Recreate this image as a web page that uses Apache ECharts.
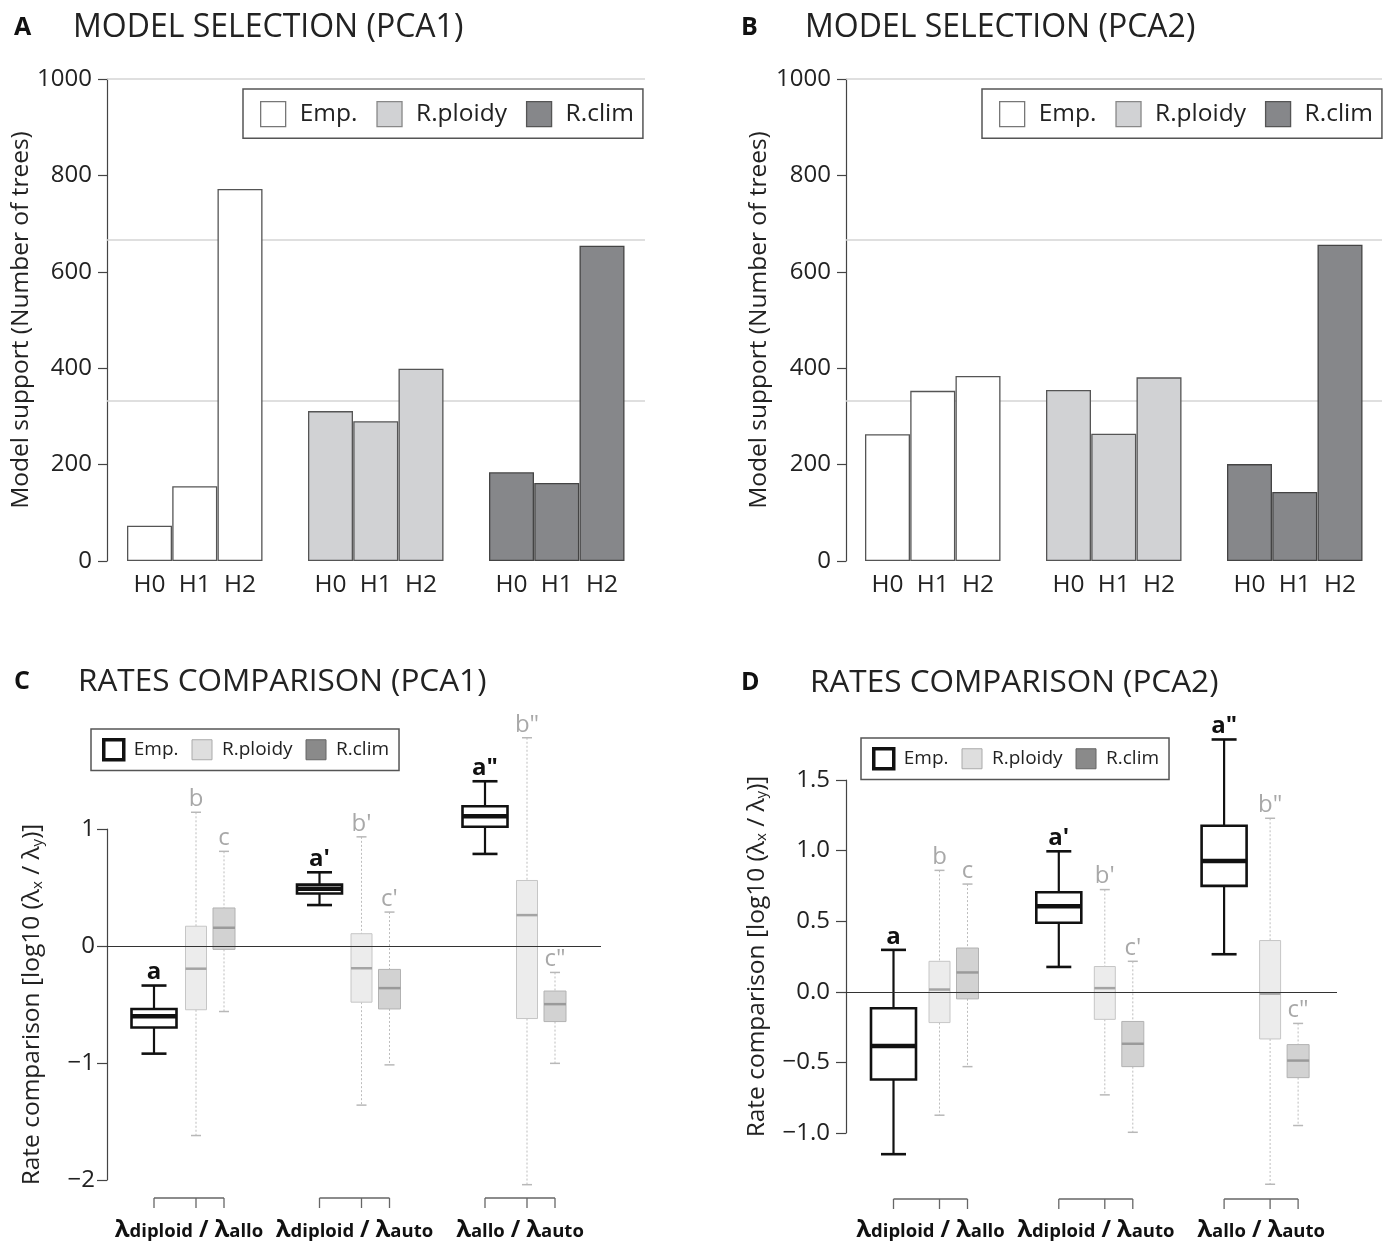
<!DOCTYPE html>
<html><head><meta charset="utf-8">
<script src="https://cdn.jsdelivr.net/npm/echarts@6/dist/echarts.min.js"></script>
<style>html,body{margin:0;padding:0;background:#fff}#c{width:1390px;height:1243px}</style>
</head><body><div id="c"></div>
<script>
// ---------------- data ----------------
const hypotheses = ['H0', 'H1', 'H2'];
const seriesNames = ['Emp.', 'R.ploidy', 'R.clim'];
// Panel A (PCA1) model support, number of trees
const pca1Emp = [73, 155, 772];
const pca1Ploidy = [311, 290, 399];
const pca1Clim = [184, 162, 654];
// Panel B (PCA2)
const pca2Emp = [263, 353, 384];
const pca2Ploidy = [355, 264, 381];
const pca2Clim = [201, 143, 656];
const supportThresholds = [1000 / 3, 2000 / 3, 1000];

// Rate comparisons: [low whisker, Q1, median, Q3, high whisker]
const ratioPairs = [['diploid', 'allo'], ['diploid', 'auto'], ['allo', 'auto']];
const pca1BoxEmp = [[-0.92, -0.697, -0.60, -0.538, -0.338], [0.35, 0.449, 0.49, 0.525, 0.63], [0.787, 1.019, 1.108, 1.194, 1.408]];
const pca1BoxPloidy = [[-1.62, -0.545, -0.194, 0.169, 1.143], [-1.36, -0.48, -0.19, 0.105, 0.933], [-2.04, -0.62, 0.264, 0.56, 1.78]];
const pca1BoxClim = [[-0.56, -0.029, 0.156, 0.325, 0.809], [-1.016, -0.538, -0.36, -0.20, 0.29], [-1.003, -0.646, -0.497, -0.385, -0.226]];
const pca2BoxEmp = [[-1.15, -0.621, -0.384, -0.116, 0.297], [0.176, 0.489, 0.605, 0.705, 0.995], [0.266, 0.75, 0.926, 1.176, 1.787]];
const pca2BoxPloidy = [[-0.874, -0.218, 0.016, 0.216, 0.86], [-0.73, -0.195, 0.026, 0.179, 0.724], [-1.363, -0.334, -0.013, 0.363, 1.229]];
const pca2BoxClim = [[-0.53, -0.05, 0.137, 0.31, 0.763], [-0.995, -0.53, -0.368, -0.21, 0.216], [-0.947, -0.608, -0.487, -0.374, -0.224]];
const sigEmp = ['a', "a'", 'a"'];
const sigPloidy = ['b', "b'", 'b"'];
const sigClim = ['c', "c'", 'c"'];

// ---------------- layout / styles ----------------
const FONT = '"Open Sans", "Noto Sans", sans-serif';
const TXT = '#222';
const AX = '#444';

const barStyles = [
  { color: '#ffffff', borderColor: '#555', borderWidth: 1.3 },
  { color: '#d1d2d4', borderColor: '#555', borderWidth: 1.3 },
  { color: '#86878a', borderColor: '#444', borderWidth: 1.3 }
];

const boxStyles = [
  { boxW: 45, capW: 25, fill: '#ffffff', stroke: '#111', boxLW: 2.6, med: '#111', medLW: 4.5,
    whisk: '#111', whiskLW: 2.2, dash: null, cap: '#111', capLW: 2.6, sigColor: '#111', sigWeight: 'bold' },
  { boxW: 21, capW: 10, fill: '#ececec', stroke: '#c6c6c6', boxLW: 1, med: '#a4a4a4', medLW: 2.5,
    whisk: '#bdbdbd', whiskLW: 1, dash: [2, 2], cap: '#b8b8b8', capLW: 1.5, sigColor: '#a8a8a8', sigWeight: 'normal' },
  { boxW: 22, capW: 10, fill: '#d2d2d2', stroke: '#b2b2b2', boxLW: 1, med: '#9a9a9a', medLW: 2.5,
    whisk: '#bdbdbd', whiskLW: 1, dash: [2, 2], cap: '#b8b8b8', capLW: 1.5, sigColor: '#a8a8a8', sigWeight: 'normal' }
];

// x-axis units of the box panels are pixels from the y axis
const boxLayoutC = { offsets: [47, 89, 117], step: 165.5, bracketDy: 18 };
const boxLayoutD = { offsets: [47.5, 93.5, 121.5], step: 165.3, bracketDy: 66 };

function makeBoxRender(st, offset, step, sig) {
  return function (params, api) {
    const g = api.value(0);
    const xv = offset + g * step;
    const P = i => api.coord([xv, api.value(i)]);
    const cx = P(1)[0];
    const yLo = P(1)[1], yQ1 = P(2)[1], yMed = P(3)[1], yQ3 = P(4)[1], yHi = P(5)[1];
    const hw = st.boxW / 2, cw = st.capW / 2;
    const ws = { stroke: st.whisk, lineWidth: st.whiskLW };
    if (st.dash) ws.lineDash = st.dash;
    const cs = { stroke: st.cap, lineWidth: st.capLW };
    return {
      type: 'group',
      children: [
        { type: 'line', shape: { x1: cx, y1: yHi, x2: cx, y2: yQ3 }, style: ws },
        { type: 'line', shape: { x1: cx, y1: yQ1, x2: cx, y2: yLo }, style: ws },
        { type: 'line', shape: { x1: cx - cw, y1: yHi, x2: cx + cw, y2: yHi }, style: cs },
        { type: 'line', shape: { x1: cx - cw, y1: yLo, x2: cx + cw, y2: yLo }, style: cs },
        { type: 'rect', shape: { x: cx - hw, y: yQ3, width: st.boxW, height: yQ1 - yQ3 },
          style: { fill: st.fill, stroke: st.stroke, lineWidth: st.boxLW } },
        { type: 'line', shape: { x1: cx - hw, y1: yMed, x2: cx + hw, y2: yMed },
          style: { stroke: st.med, lineWidth: st.medLW } },
        { type: 'text', style: { text: sig[g], x: cx, y: yHi - 1, align: 'center', verticalAlign: 'bottom',
          font: st.sigWeight + ' 24px "Open Sans", sans-serif', fill: st.sigColor } }
      ]
    };
  };
}

function makeBracketRender(layout) {
  return function (params, api) {
    const g = api.value(0);
    const xs = layout.offsets.map(o => api.coord([o + g * layout.step, 0])[0]);
    const c = params.coordSys;
    const y = c.y + c.height + layout.bracketDy;
    const st = { stroke: '#666', lineWidth: 1.3 };
    const children = [{ type: 'line', shape: { x1: xs[0], y1: y, x2: xs[2], y2: y }, style: st }];
    xs.forEach(x => children.push({ type: 'line', shape: { x1: x, y1: y, x2: x, y2: y + 10 }, style: st }));
    return { type: 'group', children };
  };
}

const minusFmt = v => (v < 0 ? '\u2212' + Math.abs(v) : String(v));
const minusFmt1 = v => (v < 0 ? '\u2212' + Math.abs(v).toFixed(1) : v.toFixed(1));

// ---------------- bar panels ----------------
function barSeries(gridIdx, arrays) {
  return arrays.map((arr, s) => ({
    type: 'bar', name: seriesNames[s], xAxisIndex: gridIdx, yAxisIndex: gridIdx,
    data: arr.map((v, h) => [s * 4 + h, v]),
    barWidth: 45, barGap: '-100%', z: 3,
    itemStyle: barStyles[s],
    markLine: s === 0 ? {
      silent: true, symbol: 'none', z: 1, label: { show: false },
      lineStyle: { color: '#d5d5d5', width: 1.5, type: 'solid' },
      data: supportThresholds.map(v => ({ yAxis: v }))
    } : undefined
  }));
}

function barYAxis(gridIdx, gap) {
  return {
    gridIndex: gridIdx, type: 'value', min: 0, max: 1000, interval: 200,
    axisLine: { show: true, onZero: false, lineStyle: { color: AX, width: 1.2 } },
    axisTick: { show: true, length: 9, lineStyle: { color: AX, width: 1.2 } },
    axisLabel: { fontSize: 24, color: TXT, fontFamily: FONT, margin: 15, formatter: v => String(v) },
    splitLine: { show: false },
    name: 'Model support (Number of trees)', nameLocation: 'middle', nameGap: gap,
    nameTextStyle: { fontSize: 24.5, color: TXT, fontFamily: FONT }
  };
}

function barXAxis(gridIdx, min, max) {
  return {
    gridIndex: gridIdx, type: 'value', min, max,
    axisLine: { show: false, onZero: false }, axisTick: { show: false }, splitLine: { show: false },
    axisLabel: {
      customValues: [0, 1, 2, 4, 5, 6, 8, 9, 10],
      formatter: v => hypotheses[Math.round(v) % 4],
      fontSize: 24.5, color: TXT, fontFamily: FONT, margin: 12
    }
  };
}

// ---------------- box panels ----------------
function boxSeries(gridIdx, arrays, layout) {
  const sigs = [sigEmp, sigPloidy, sigClim];
  const out = arrays.map((arr, s) => ({
    type: 'custom', name: seriesNames[s], xAxisIndex: gridIdx, yAxisIndex: gridIdx,
    data: arr.map((r, g) => [g].concat(r)),
    encode: { x: 0, y: [1, 2, 3, 4, 5] },
    renderItem: makeBoxRender(boxStyles[s], layout.offsets[s], layout.step, sigs[s]),
    z: 3,
    markLine: s === 0 ? {
      silent: true, symbol: 'none', z: 10, label: { show: false },
      lineStyle: { color: '#333', width: 1, type: 'solid' }, data: [{ yAxis: 0 }]
    } : undefined
  }));
  out.push({
    type: 'custom', name: 'brackets', xAxisIndex: gridIdx, yAxisIndex: gridIdx,
    data: ratioPairs.map((p, g) => [g, 0]), encode: { x: 0, y: 1 },
    renderItem: makeBracketRender(layout), silent: true
  });
  return out;
}

function boxXAxis(gridIdx, width, layout, margin) {
  const mid = (layout.offsets[0] + layout.offsets[2]) / 2;
  return {
    gridIndex: gridIdx, type: 'value', min: 0, max: width,
    axisLine: { show: false, onZero: false }, axisTick: { show: false }, splitLine: { show: false },
    axisLabel: {
      customValues: ratioPairs.map((p, g) => mid + g * layout.step),
      formatter: v => {
        const g = Math.round((v - mid) / layout.step);
        const p = ratioPairs[g];
        return '{L|\u03bb}{S|' + p[0] + '}{D| / }{L|\u03bb}{S|' + p[1] + '}';
      },
      margin,
      rich: {
        L: { fontSize: 24, fontWeight: 'bold', fontFamily: FONT, color: '#111', verticalAlign: 'bottom' },
        S: { fontSize: 18.5, fontWeight: 'bold', fontFamily: FONT, color: '#111', verticalAlign: 'bottom', padding: [0, 0, 1, 0] },
        D: { fontSize: 23, fontWeight: 'bold', fontFamily: FONT, color: '#111', verticalAlign: 'bottom' }
      }
    }
  };
}

function boxYAxis(gridIdx, min, max, interval, fmt, gap, margin) {
  return {
    gridIndex: gridIdx, type: 'value', min, max, interval,
    axisLine: { show: true, onZero: false, lineStyle: { color: AX, width: 1.2 } },
    axisTick: { show: true, length: 10, lineStyle: { color: AX, width: 1.2 } },
    axisLabel: { fontSize: 24, color: TXT, fontFamily: FONT, margin, formatter: fmt },
    splitLine: { show: false },
    name: 'Rate comparison [log10 (\u03bb{s|x} / \u03bb{s|y})]', nameLocation: 'middle', nameGap: gap,
    nameTextStyle: { fontSize: 24.5, color: TXT, fontFamily: FONT,
      rich: { s: { fontSize: 15, color: TXT, fontFamily: FONT, verticalAlign: 'bottom' } } }
  };
}

function legendFor(left, top, padding, size, fontSize, gap, textPad, items) {
  return {
    left, top, padding, itemWidth: size, itemHeight: size, itemGap: gap,
    orient: 'horizontal', selectedMode: false,
    borderColor: '#555', borderWidth: 1.5, borderRadius: 0, backgroundColor: '#fff',
    textStyle: { fontSize, color: TXT, fontFamily: FONT, padding: [0, 0, 0, textPad] },
    data: items
  };
}

const legendBarItems = [
  { name: 'Emp.', icon: 'rect', itemStyle: { color: '#fff', borderColor: '#777', borderWidth: 1.3 } },
  { name: 'R.ploidy', icon: 'rect', itemStyle: { color: '#d1d2d4', borderColor: '#888', borderWidth: 1.3 } },
  { name: 'R.clim', icon: 'rect', itemStyle: { color: '#86878a', borderColor: '#555', borderWidth: 1.3 } }
];
const legendBoxItems = [
  { name: 'Emp.', icon: 'rect', itemStyle: { color: '#fff', borderColor: '#111', borderWidth: 3.5 } },
  { name: 'R.ploidy', icon: 'rect', itemStyle: { color: '#dedede', borderColor: '#aaa', borderWidth: 1 } },
  { name: 'R.clim', icon: 'rect', itemStyle: { color: '#8a8a8a', borderColor: '#666', borderWidth: 1 } }
];

function titleItems(letter, text, lx, tx, cy, size) {
  return [
    { text: letter, left: lx, top: cy - 13, padding: 0,
      textStyle: { fontFamily: FONT, fontWeight: 'bold', fontSize: 25, lineHeight: 26, color: '#111' } },
    { text, left: tx, top: cy - 18, padding: 0,
      textStyle: { fontFamily: FONT, fontWeight: 'normal', fontSize: size, lineHeight: 36, color: TXT } }
  ];
}

const chart = echarts.init(document.getElementById('c'), null, { renderer: 'canvas' });
const SLOT = 45.25;
chart.setOption({
  animation: false,
  backgroundColor: '#fff',
  title: [].concat(
    titleItems('A', 'MODEL SELECTION (PCA1)', 14, 73, 28, 32),
    titleItems('B', 'MODEL SELECTION (PCA2)', 741, 805, 28, 32),
    titleItems('C', 'RATES COMPARISON (PCA1)', 14, 78, 682, 31.5),
    titleItems('D', 'RATES COMPARISON (PCA2)', 741, 810, 683, 31.5)
  ),
  legend: [
    legendFor(243, 89, [12, 9, 11, 17], 25, 24.5, 19, 9, legendBarItems),
    legendFor(982, 89, [12, 9, 11, 17], 25, 24.5, 19, 9, legendBarItems),
    legendFor(91, 729, [9, 10, 9, 11], 20, 19, 13, 5, legendBoxItems),
    legendFor(861, 738, [9, 10, 9, 11], 20, 19, 13, 5, legendBoxItems)
  ],
  grid: [
    { left: 107, top: 79, width: 538, height: 482, outerBoundsMode: 'none' },
    { left: 846, top: 79, width: 536, height: 482, outerBoundsMode: 'none' },
    { left: 107, top: 829, width: 494, height: 351, outerBoundsMode: 'none' },
    { left: 846, top: 780, width: 491, height: 353, outerBoundsMode: 'none' }
  ],
  xAxis: [
    barXAxis(0, (107 - 149.5) / SLOT, (645 - 149.5) / SLOT),
    barXAxis(1, (846 - 887.5) / SLOT, (1382 - 887.5) / SLOT),
    boxXAxis(2, 494, boxLayoutC, 38),
    boxXAxis(3, 491, boxLayoutD, 85)
  ],
  yAxis: [
    barYAxis(0, 71.5),
    barYAxis(1, 74.5),
    boxYAxis(2, -2, 1, 1, minusFmt, 62, 12),
    boxYAxis(3, -1, 1.5, 0.5, minusFmt1, 76.5, 16)
  ],
  series: [].concat(
    barSeries(0, [pca1Emp, pca1Ploidy, pca1Clim]),
    barSeries(1, [pca2Emp, pca2Ploidy, pca2Clim]),
    boxSeries(2, [pca1BoxEmp, pca1BoxPloidy, pca1BoxClim], boxLayoutC),
    boxSeries(3, [pca2BoxEmp, pca2BoxPloidy, pca2BoxClim], boxLayoutD)
  )
});
</script>
</body></html>
